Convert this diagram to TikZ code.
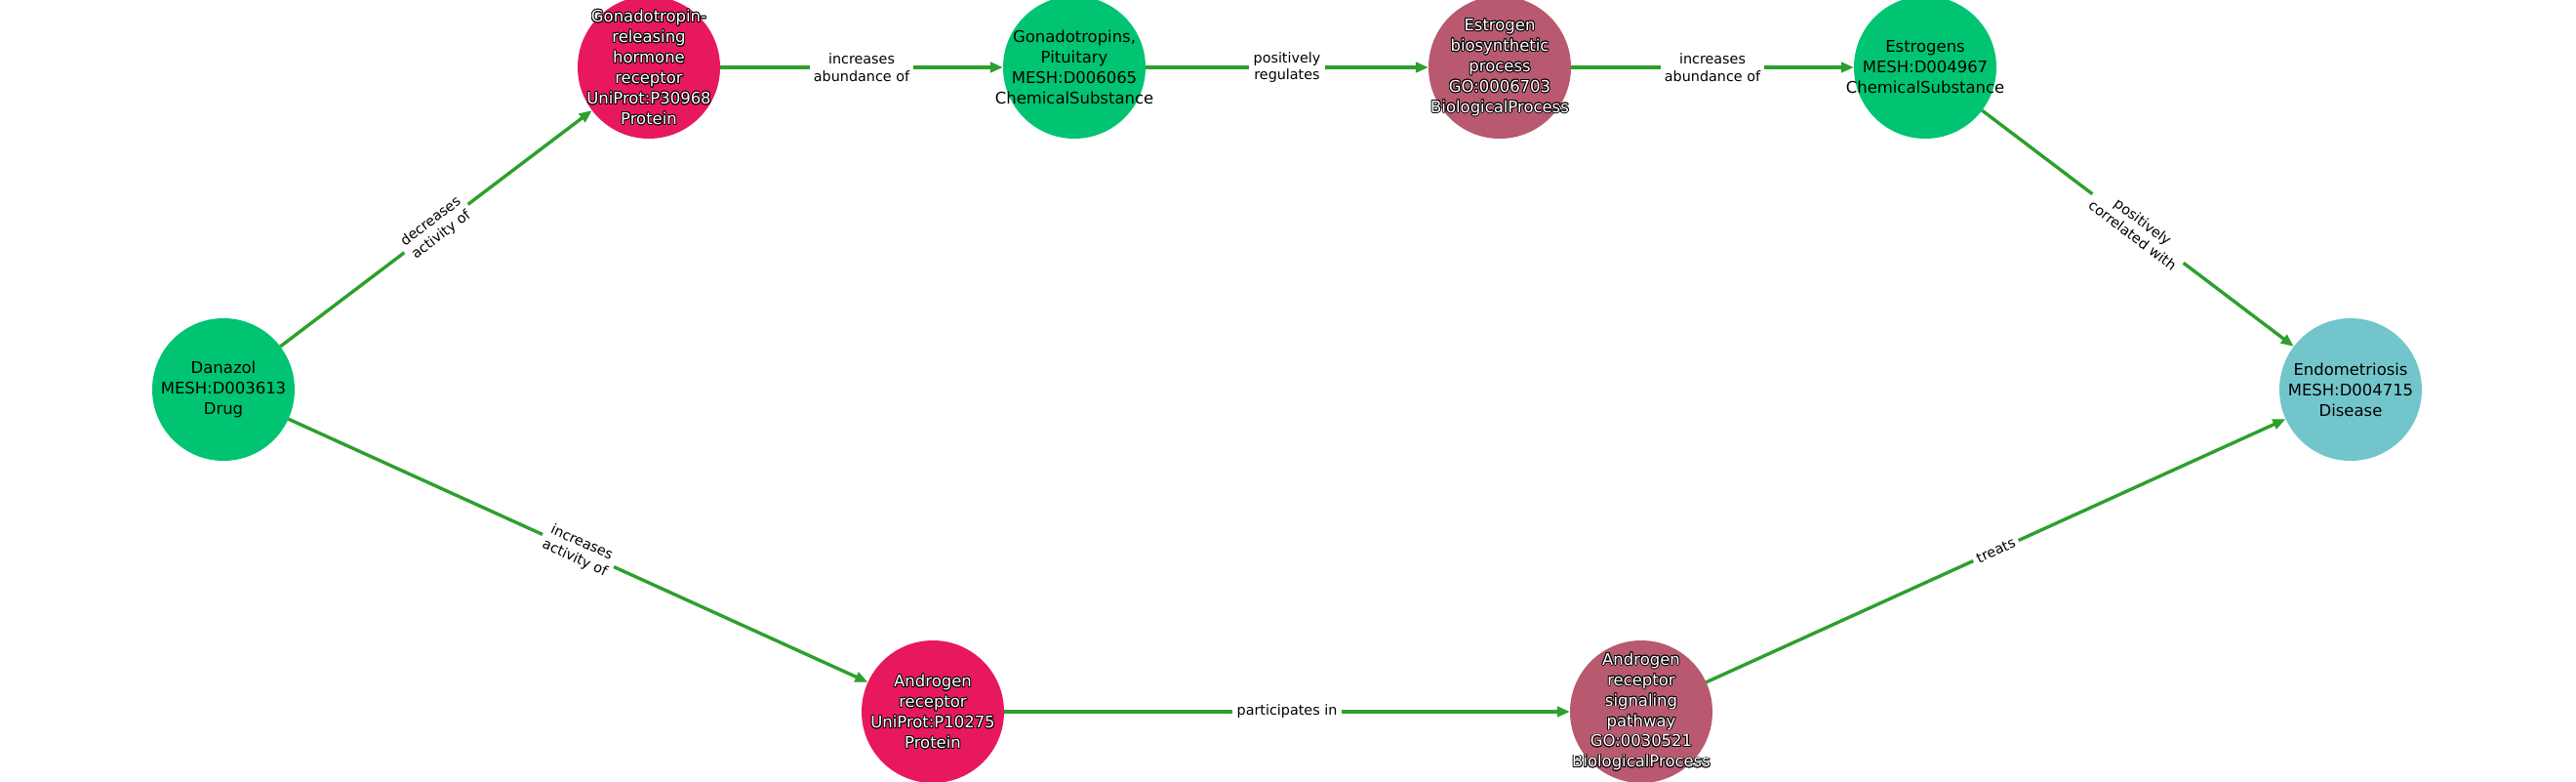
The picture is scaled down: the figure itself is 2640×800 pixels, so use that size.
\documentclass[tikz,border=0pt]{standalone}
\usepackage{fontspec}
\setmainfont{DejaVu Sans}
\usepackage{xcolor}
\usepackage{tikz}
\usetikzlibrary{arrows.meta}

\definecolor{chemgreen}{RGB}{0,196,114}
\definecolor{protpink}{RGB}{232,24,94}
\definecolor{procmauve}{RGB}{184,89,112}
\definecolor{disteal}{RGB}{114,198,203}
\definecolor{relgreen}{RGB}{44,160,44}

\newcommand\nfont{\fontsize{11.7pt}{14.9pt}\selectfont}
\newcommand\efont{\fontsize{10.2pt}{12.4pt}\selectfont}

\begin{document}
\begin{tikzpicture}[x=0.25mm, y=-0.25mm,
    ent/.style={circle, minimum size=36.5mm, inner sep=0pt, outer sep=0pt},
    chem/.style={ent, fill=chemgreen},
    prot/.style={ent, fill=protpink},
    proc/.style={ent, fill=procmauve},
    dis/.style={ent, fill=disteal},
    ntext/.style={align=center, font=\nfont, inner sep=0pt},
    rel/.style={draw=relgreen, line width=0.85mm, -{Triangle[length=3.3mm,width=2.6mm]}},
    rlab/.style={fill=white, align=center, font=\efont, inner xsep=1.1mm, inner ysep=0.4mm, sloped, midway}]

    \useasboundingbox (0,0) rectangle (2640,800);

    % white text with a black rim
    \def\halo#1#2{
      \foreach \ang in {0,30,...,330}
        \node[ntext, text=black, shift={(\ang:0.65pt)}] (#1-rim\ang) at (#1) {#2};
      \node[ntext, text=white] (#1-txt) at (#1) {#2};
    }

    % entities
    \node[chem] (danazol) at (229,399) {};
    \node[prot] (gnrh)    at (665,69)  {};
    \node[chem] (gonad)   at (1101,69) {};
    \node[proc] (estbio)  at (1537,69) {};
    \node[chem] (estro)   at (1973,69) {};
    \node[dis]  (endo)    at (2409,399) {};
    \node[prot] (ar)      at (956,729) {};
    \node[proc] (arsig)   at (1682,729) {};

    % relations
    \foreach \s/\t/\r in {
        danazol/gnrh/{decreases\\activity of},
        gnrh/gonad/{increases\\abundance of},
        gonad/estbio/{positively\\regulates},
        estbio/estro/{increases\\abundance of},
        estro/endo/{positively\\correlated with},
        danazol/ar/{increases\\activity of},
        ar/arsig/{participates in},
        arsig/endo/{treats}}
      \draw[rel] (\s) -- node[rlab] (\s-\t) {\r} (\t);

    % labels
    \node[ntext] (danazol-txt) at (danazol) {Danazol\\MESH:D003613\\Drug};
    \node[ntext] (gonad-txt) at (gonad) {Gonadotropins,\\Pituitary\\MESH:D006065\\ChemicalSubstance};
    \node[ntext] (estro-txt) at (estro) {Estrogens\\MESH:D004967\\ChemicalSubstance};
    \node[ntext] (endo-txt) at (endo) {Endometriosis\\MESH:D004715\\Disease};
    \halo{gnrh}{Gonadotropin-\\releasing\\hormone\\receptor\\UniProt:P30968\\Protein}
    \halo{estbio}{Estrogen\\biosynthetic\\process\\GO:0006703\\BiologicalProcess}
    \halo{ar}{Androgen\\receptor\\UniProt:P10275\\Protein}
    \halo{arsig}{Androgen\\receptor\\signaling\\pathway\\GO:0030521\\BiologicalProcess}

\end{tikzpicture}
\end{document}
